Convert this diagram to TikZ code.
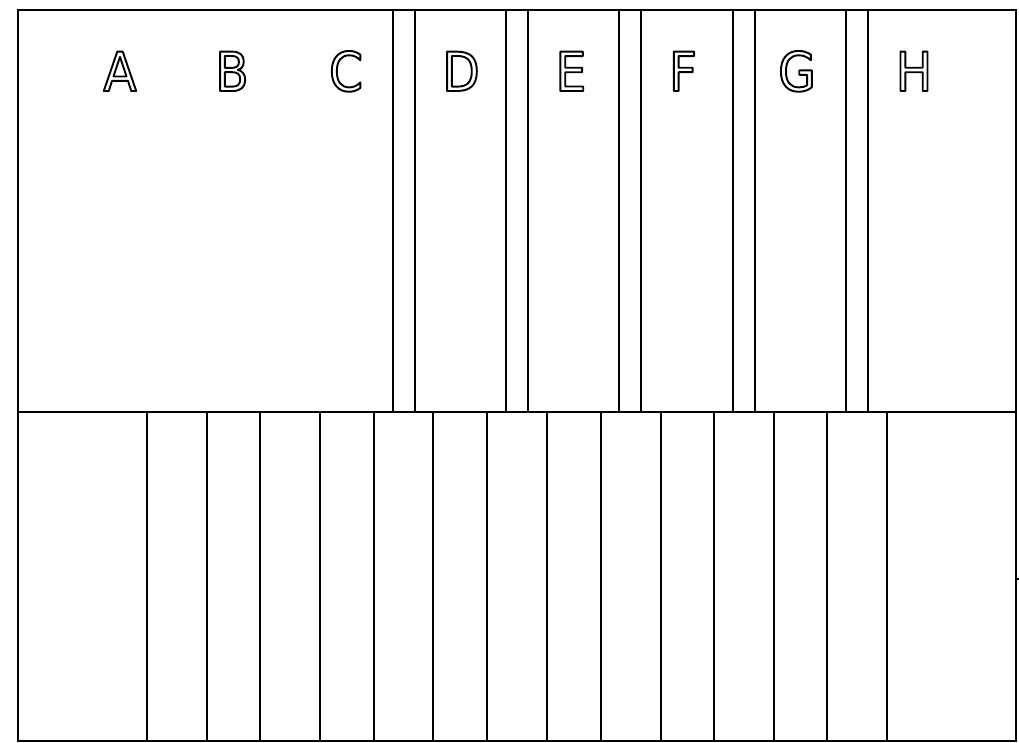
\documentclass[tikz,border=0pt]{standalone}
\usepackage{fontspec}
\newfontfamily\lblfont[FakeStretch=0.9]{DejaVu Sans}
\newcommand\outlinetext[1]{\special{pdf:literal direct 1 Tr 1.9 w 1 j}#1\special{pdf:literal direct 0 Tr 0 j}}
\tikzset{
  wall/.style={line width=2.2pt, line cap=rect},
  letter/.style={anchor=base, inner sep=0pt, font=\lblfont\fontsize{54}{54}\selectfont}
}
\begin{document}
\begin{tikzpicture}[x=1pt, y=-1pt]
\useasboundingbox (0,0) rectangle (1019,743);
% outer frame and divider
\draw[wall] (18,10) rectangle (1016,741);
\draw[wall] (18,412) -- (1016,412);
% top double partitions
\foreach \xa/\xb in {393/415, 506/528, 619/641, 733/755, 846/868}{
  \draw[wall] (\xa,10) -- (\xa,412);
  \draw[wall] (\xb,10) -- (\xb,412);
}
% bottom partitions
\foreach \x in {147,207,260,320,374,433,487,547,601,661,714,774,827,887}{
  \draw[wall] (\x,412) -- (\x,741);
}
% small tick on the right side
\draw[line width=1.2pt] (1016,579) -- (1019,579);
% letters
\foreach \l/\x in {A/120, B/232, C/346, D/461, E/571, F/683, G/797, H/914}{
  \node[letter] (lbl\l) at (\x,91) {\outlinetext{\l}};
}
\end{tikzpicture}
\end{document}
